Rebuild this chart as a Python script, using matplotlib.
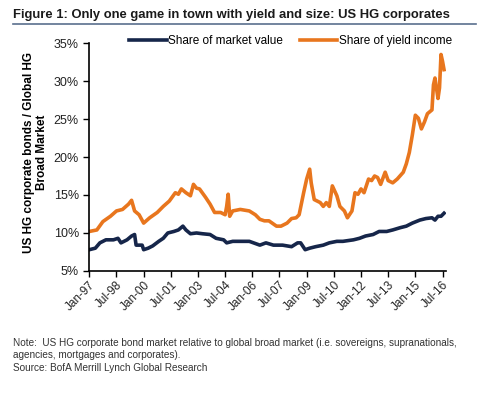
import matplotlib.pyplot as plt

# months since Jan-97
orange_m = [0, 5, 9, 14, 18, 22, 26, 28, 30, 33, 36, 40, 45, 49, 53, 57, 59, 61, 64, 67,
            69, 71, 73, 77, 80, 83, 87, 90, 91, 92, 93, 95, 100, 106, 110, 113, 116, 119,
            124, 127, 131, 134, 137, 139, 142, 144, 146, 147, 149, 153, 155, 157, 159, 161,
            164, 166, 169, 171, 174, 176, 178, 180, 182, 185, 187, 189, 191, 193, 196, 198,
            201, 204, 208, 210, 212, 214, 216, 218, 220, 222, 224, 227, 228, 229, 231, 232,
            233, 234, 235]
yield_share = [10.2, 10.4, 11.5, 12.2, 12.9, 13.1, 13.8, 14.3, 12.9, 12.4, 11.3, 12.0, 12.7,
               13.5, 14.2, 15.3, 15.1, 15.8, 15.3, 14.9, 16.4, 15.9, 15.8, 14.7, 13.8, 12.7,
               12.7, 12.4, 13.5, 15.1, 12.2, 12.9, 13.1, 12.9, 12.4, 11.8, 11.6, 11.6, 10.9,
               10.9, 11.3, 11.9, 12.0, 12.4, 15.3, 17.1, 18.4, 16.6, 14.4, 14.0, 13.5, 14.0,
               13.5, 16.2, 14.9, 13.5, 12.9, 12.0, 12.9, 15.3, 15.1, 15.8, 15.3, 17.1, 16.9,
               17.5, 17.3, 16.4, 18.0, 16.9, 16.6, 17.1, 18.0, 19.1, 20.6, 22.9, 25.5, 25.1,
               23.7, 24.6, 25.7, 26.2, 29.5, 30.4, 27.7, 29.1, 33.5, 32.6, 31.5]

navy_m = [0, 4, 7, 11, 16, 19, 21, 25, 28, 30, 31, 35, 36, 39, 42, 46, 49, 52, 56, 59, 62,
          64, 67, 71, 75, 80, 84, 89, 91, 95, 100, 106, 113, 117, 122, 128, 134, 138, 140,
          143, 146, 150, 155, 159, 164, 168, 175, 179, 183, 188, 192, 197, 201, 206, 210,
          214, 219, 223, 227, 229, 231, 233, 235]
value_share = [7.8, 8.0, 8.7, 9.1, 9.1, 9.3, 8.7, 9.1, 9.6, 9.8, 8.4, 8.4, 7.8, 8.0, 8.3,
               8.9, 9.3, 10.0, 10.2, 10.4, 10.9, 10.4, 9.9, 10.0, 9.9, 9.8, 9.3, 9.1, 8.7,
               8.9, 8.9, 8.9, 8.4, 8.7, 8.4, 8.4, 8.2, 8.7, 8.7, 7.8, 8.0, 8.2, 8.4, 8.7,
               8.9, 8.9, 9.1, 9.3, 9.6, 9.8, 10.2, 10.2, 10.4, 10.7, 10.9, 11.3, 11.7, 11.9,
               12.0, 11.7, 12.2, 12.2, 12.6]

tick_labels = ["Jan-97", "Jul-98", "Jan-00", "Jul-01", "Jan-03", "Jul-04", "Jan-06",
               "Jul-07", "Jan-09", "Jul-10", "Jan-12", "Jul-13", "Jan-15", "Jul-16"]

plt.rcParams["font.family"] = ["Liberation Sans", "DejaVu Sans"]

fig = plt.figure(figsize=(4.88, 3.95), dpi=100)
ax = fig.add_axes([0.183, 0.314, 0.73, 0.577])

ax.plot(navy_m, value_share, color="#16264a", lw=2.6, label="Share of market value")
ax.plot(orange_m, yield_share, color="#e8761e", lw=2.6, label="Share of yield income")

ax.set_xlim(0, 236)
ax.set_ylim(5, 35)
ax.set_xticks(range(0, 235, 18))
ax.set_xticklabels(tick_labels, rotation=45, ha="right", rotation_mode="anchor", fontsize=8.5)
ax.set_yticks(range(5, 36, 5))
ax.set_yticklabels([f"{v}%" for v in range(5, 36, 5)], fontsize=9)
ax.tick_params(direction="out", length=4, width=1, color="black", colors="#222222")
ax.tick_params(axis="x", pad=2)
for s in ["top", "right"]:
    ax.spines[s].set_visible(False)
ax.spines["left"].set_linewidth(1.2)
ax.spines["bottom"].set_linewidth(1.2)

ax.set_ylabel("US HG corporate bonds / Global HG\nBroad Market", fontsize=8.5,
              fontweight="bold", linespacing=1.1)
ax.yaxis.set_label_coords(-0.115, 0.52)

ax.legend(loc="upper center", bbox_to_anchor=(0.565, 1.08), ncol=2, frameon=False,
          fontsize=8.5, handlelength=3.2, handletextpad=0.1, columnspacing=1.4)

fig.text(0.027, 0.955, "Figure 1: Only one game in town with yield and size: US HG corporates",
         fontsize=9.4, fontweight="bold", color="#1a1a1a")
fig.add_artist(plt.Line2D([0.027, 0.975], [0.94, 0.94], color="#5a6f8e", lw=1.2))

fig.text(0.027, 0.06, "Note:  US HG corporate bond market relative to global broad market (i.e. sovereigns, supranationals,\n"
         "agencies, mortgages and corporates).\nSource: BofA Merrill Lynch Global Research",
         fontsize=7.2, color="#333333", linespacing=1.35)

fig.savefig("out.png", dpi=100)
